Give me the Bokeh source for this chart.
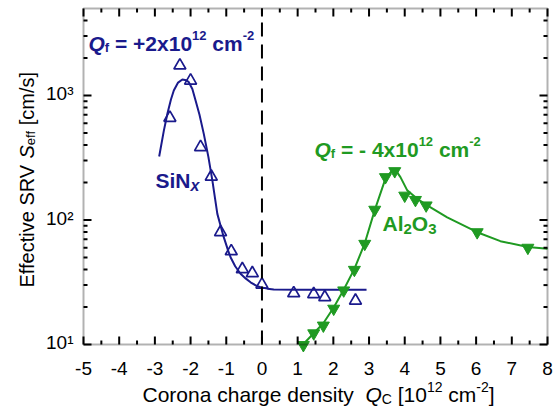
import math
from bokeh.plotting import figure
from bokeh.models import Range1d, Label, BoxAnnotation
from bokeh.embed import file_html
from bokeh.resources import INLINE

# ---------------- data ----------------
sin_x = [-2.58, -2.30, -2.00, -1.72, -1.42, -1.16, -0.86, -0.55, -0.27, 0.00, 0.89, 1.45, 1.76, 2.62]
sin_y = [662, 1742, 1318, 385, 223, 79.8, 56.1, 40.3, 37.4, 30.3, 25.8, 25.4, 24.0, 22.5]

sin_fit_x = [-2.88, -2.75, -2.65, -2.55, -2.47, -2.35, -2.23, -2.12, -2.05, -1.95, -1.86, -1.75,
             -1.63, -1.50, -1.39, -1.25, -1.15, -1.07, -0.95, -0.88, -0.75, -0.60, -0.45, -0.32,
             -0.15, -0.04, 0.15, 0.33, 1.00, 2.93]
sin_fit_y = [324, 520, 713, 930, 1096, 1270, 1345, 1325, 1280, 1130, 912, 700,
             492, 320, 208, 112, 88, 72.8, 57, 50.2, 42.5, 37.0, 33.8, 31.6,
             29.6, 28.8, 28.1, 27.7, 27.5, 27.5]

al_x = [1.16, 1.45, 1.72, 2.01, 2.29, 2.59, 2.88, 3.16, 3.46, 3.72, 4.00, 4.30, 4.60, 6.03, 7.45]
al_y = [9.9, 12.3, 14.2, 19.4, 27.2, 39.8, 64.4, 121, 221, 247, 157, 145, 131, 79.8, 59.9]

al_fit_x = [1.15, 1.45, 1.72, 2.01, 2.29, 2.59, 2.88, 3.16, 3.46, 3.62, 3.74, 3.88, 4.07, 4.35,
            4.63, 5.19, 6.03, 6.68, 7.45, 8.00]
al_fit_y = [10.0, 12.3, 14.8, 19.8, 27.5, 40.5, 65, 120, 215, 245, 253, 221, 173, 148,
            131, 105, 79.8, 67.6, 60.6, 58.7]

X_MIN, X_MAX = -5, 8
Y_MIN, Y_MAX = 10, 5000
x_ticks = [-5, -4, -3, -2, -1, 0, 1, 2, 3, 4, 5, 6, 7, 8]
x_tick_labels = ["-5", "-4", "-3", "-2", "-1", "0", "1", "2", "3", "4", "5", "6", "7", "8"]
x_minor = [-4.5, -3.5, -2.5, -1.5, -0.5, 0.5, 1.5, 2.5, 3.5, 4.5, 5.5, 6.5, 7.5]
y_ticks = [10, 100, 1000]
y_tick_labels = ["10\u00b9", "10\u00b2", "10\u00b3"]
y_minor = [20, 30, 40, 50, 60, 70, 80, 90, 200, 300, 400, 500, 600, 700, 800, 900,
           2000, 3000, 4000]

NAVY = "#1a1a8c"
GREEN = "#1f9a22"
FONT = "Liberation Sans"

# ---------------- layout: plot box inside a full-canvas frame ----------------
W, H = 553, 412
PX_L, PX_R, PX_T, PX_B = 83, 547, 8, 344
FIX = 7   # baseline correction for text placement
ux = (X_MAX - X_MIN) / (PX_R - PX_L)
ly = (math.log10(Y_MAX) - math.log10(Y_MIN)) / (PX_B - PX_T)
x_lo = X_MIN - PX_L * ux
x_hi = X_MAX + (W - PX_R) * ux
y_lo = 10 ** (math.log10(Y_MIN) - (H - PX_B) * ly)
y_hi = 10 ** (math.log10(Y_MAX) + PX_T * ly)

p = figure(width=W, height=H, x_range=Range1d(x_lo, x_hi), y_range=Range1d(y_lo, y_hi),
           y_axis_type="log", x_axis_location=None, y_axis_location=None,
           output_backend="svg", toolbar_location=None,
           min_border_left=0, min_border_right=0, min_border_top=0, min_border_bottom=0)
p.grid.visible = False
p.outline_line_color = None
p.background_fill_color = "white"
p.border_fill_color = "white"

# ---------------- marks ----------------
p.line(sin_fit_x, sin_fit_y, line_color=NAVY, line_width=2)
p.line(al_fit_x, al_fit_y, line_color=GREEN, line_width=2)
p.scatter(sin_x, sin_y, marker="triangle", size=12, fill_color=None,
          line_color=NAVY, line_width=1.7)
p.scatter(al_x, al_y, marker="inverted_triangle", size=12, fill_color=GREEN,
          line_color=GREEN, line_width=1)

# dashed zero line
p.segment(x0=[0], y0=[Y_MIN], x1=[0], y1=[Y_MAX], line_color="black", line_width=2,
          line_dash="14 8")

# box + ticks on all four sides (ticks pointing inward)
p.add_layout(BoxAnnotation(left=X_MIN, right=X_MAX, bottom=Y_MIN, top=Y_MAX,
                           fill_alpha=0, line_color="black", line_width=2))
for xs, ln in ((x_ticks, 8), (x_minor, 4)):
    p.ray(x=xs, y=[Y_MIN] * len(xs), length=ln, length_units="screen", angle=math.pi / 2,
          line_color="black", line_width=2)
    p.ray(x=xs, y=[Y_MAX] * len(xs), length=ln, length_units="screen", angle=-math.pi / 2,
          line_color="black", line_width=2)
for ys, ln in ((y_ticks, 8), (y_minor, 4)):
    p.ray(x=[X_MIN] * len(ys), y=ys, length=ln, length_units="screen", angle=0,
          line_color="black", line_width=2)
    p.ray(x=[X_MAX] * len(ys), y=ys, length=ln, length_units="screen", angle=math.pi,
          line_color="black", line_width=2)

# tick labels
for t, lab in zip(x_ticks, x_tick_labels):
    p.add_layout(Label(x=t, y=Y_MIN, y_offset=-31 + FIX, text=lab, text_font=FONT,
                       text_font_size="19px", text_color="black", text_align="center",
                       text_baseline="alphabetic"))
for t, lab in zip(y_ticks, y_tick_labels):
    p.add_layout(Label(x=X_MIN, y=t, x_offset=-10, y_offset=-5 + FIX, text=lab, text_font=FONT,
                       text_font_size="19px", text_color="black", text_align="right",
                       text_baseline="alphabetic"))

# ---------------- rich text helper ----------------
W_REG = {' ': 278, '+': 584, '-': 333, '/': 278, '=': 584, '[': 278, ']': 278, 'C': 722,
         'E': 667, 'Q': 778, 'R': 722, 'S': 667, 'V': 667, 'a': 556, 'c': 500, 'd': 556,
         'e': 556, 'f': 278, 'g': 556, 'h': 556, 'i': 222, 'm': 833, 'n': 556, 'o': 556,
         'r': 333, 's': 500, 't': 278, 'v': 500, 'x': 500, 'y': 500}
W_BOLD = {' ': 278, '+': 584, '-': 333, '=': 584, 'A': 722, 'N': 722, 'O': 778, 'Q': 778,
          'S': 667, 'c': 556, 'f': 333, 'i': 278, 'l': 278, 'm': 889, 'x': 556}
for d in "0123456789":
    W_REG[d] = 556
    W_BOLD[d] = 556


def tw(s, size, bold):
    tab = W_BOLD if bold else W_REG
    return sum(tab.get(ch, 556) for ch in s) * size / 1000.0


def rich(pieces, px, py, color, rotate=False):
    cur = 0.0
    for txt, size, style, dy in pieces:
        bold = "bold" in style
        lead = len(txt) - len(txt.lstrip(" "))
        cur += lead * tw(" ", size, bold)
        core = txt.strip(" ")
        if core:
            if rotate:
                xo, yo, ang = (px - PX_L) - dy - FIX, (PX_B - py) + cur, math.pi / 2
            else:
                xo, yo, ang = (px - PX_L) + cur, (PX_B - py) + dy + FIX, 0
            p.add_layout(Label(x=X_MIN, y=Y_MIN, x_offset=xo, y_offset=yo, angle=ang,
                               text=core, text_font=FONT, text_font_size=f"{size}px",
                               text_font_style=style, text_color=color,
                               text_align="left", text_baseline="alphabetic"))
            cur += tw(core, size, bold)
        trail = len(txt) - len(txt.rstrip(" "))
        cur += trail * tw(" ", size, bold)


BIG, SMALL = 21, 13

rich([("Q", BIG, "bold italic", 0), ("f", SMALL, "bold", -4), (" = +2x10", BIG, "bold", 0),
      ("12", SMALL, "bold", 8), (" cm", BIG, "bold", 0), ("-2", SMALL, "bold", 8)],
     88, 50, NAVY)
rich([("SiN", BIG, "bold", 0), ("x", SMALL + 3, "bold italic", -5)], 155, 187, NAVY)
rich([("Q", BIG, "bold italic", 0), ("f", SMALL, "bold", -4), (" = - 4x10", BIG, "bold", 0),
      ("12", SMALL, "bold", 8), (" cm", BIG, "bold", 0), ("-2", SMALL, "bold", 8)],
     314, 156, GREEN)
rich([("Al", BIG, "bold", 0), ("2", SMALL + 2, "bold", -5), ("O", BIG, "bold", 0),
      ("3", SMALL + 2, "bold", -5)], 382, 230, GREEN)

# axis titles
rich([("Corona charge density  ", 21, "normal", 0), ("Q", 21, "italic", 0),
      ("C", SMALL + 1, "normal", -4), (" [10", 21, "normal", 0), ("12", SMALL + 1, "normal", 8),
      (" cm", 21, "normal", 0), ("-2", SMALL + 1, "normal", 8), ("]", 21, "normal", 0)],
     142, 401, "black")
rich([("Effective SRV ", 20, "normal", 0), ("S", 20, "italic", 0),
      ("eff", SMALL, "normal", -4), (" [cm/s]", 20, "normal", 0)],
     33, 287, "black", rotate=True)

open("out.html", "w").write(file_html(p, INLINE))
